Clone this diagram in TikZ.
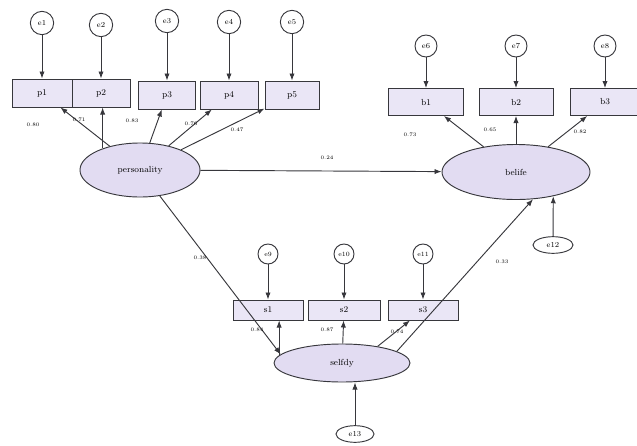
\documentclass[tikz,border=0pt]{standalone}
\usepackage{xcolor}
\usetikzlibrary{arrows.meta,shapes.geometric}

\definecolor{LatFill}{RGB}{226,220,242}
\definecolor{ObsFill}{RGB}{234,230,246}
\definecolor{LineGray}{RGB}{55,55,60}

\begin{document}
\begin{tikzpicture}[
        % Environment Config
        x=0.03cm, y=-0.03cm,
        line width=0.8pt,
        Path/.style={% Style for the regression paths
          -{Latex[length=6pt,width=4.5pt]},
          LineGray
        },
        Latent/.style={% Style for the latent variables
          draw=LineGray,
          fill=LatFill,
          ellipse,
          inner sep=0pt,
          font=\fontsize{7.5}{8}\selectfont
        },
        Observed/.style={% Style for the indicators
          draw=LineGray,
          fill=ObsFill,
          rectangle,
          inner sep=0pt,
          minimum width=1.8cm,
          minimum height=0.84cm,
          font=\fontsize{7.5}{8}\selectfont
        },
        ErrCirc/.style={% Style for the error terms
          draw=LineGray,
          fill=white,
          circle,
          inner sep=0pt,
          minimum size=0.7cm,
          font=\fontsize{6.5}{7}\selectfont
        },
        Weight/.style={% Style for the path values
          inner sep=0pt,
          font=\fontsize{4.5}{5}\selectfont
        }
      ]

      \useasboundingbox (0,0) rectangle (637,446);

      % Latent variables
      \draw(140,170) node[Latent,minimum width=3.6cm,minimum height=1.62cm](Pers){personality};
      \draw(516,172) node[Latent,minimum width=4.44cm,minimum height=1.65cm](Bel){belife};
      \draw(342,363) node[Latent,minimum width=4.08cm,minimum height=1.14cm](Self){selfdy};

      % Indicators of personality
      \draw(42,93) node[Observed](p1){p1};
      \draw(101,93) node[Observed,minimum width=1.74cm](p2){p2};
      \draw(167,95) node[Observed,minimum width=1.71cm](p3){p3};
      \draw(229,95) node[Observed,minimum width=1.74cm](p4){p4};
      \draw(292,95) node[Observed,minimum width=1.62cm](p5){p5};

      % Indicators of belife
      \draw(426,102) node[Observed,minimum width=2.25cm,minimum height=0.81cm](b1){b1};
      \draw(516,102) node[Observed,minimum width=2.22cm,minimum height=0.81cm](b2){b2};
      \draw(605,102) node[Observed,minimum width=2.1cm,minimum height=0.81cm](b3){b3};

      % Indicators of selfdy
      \draw(268,310) node[Observed,minimum width=2.1cm,minimum height=0.6cm](s1){s1};
      \draw(344,310) node[Observed,minimum width=2.16cm,minimum height=0.6cm](s2){s2};
      \draw(423,310) node[Observed,minimum width=2.1cm,minimum height=0.6cm](s3){s3};

      % Error terms
      \draw(p1 |- 0,23) node[ErrCirc](e1){e1};
      \draw(p2 |- 0,25) node[ErrCirc](e2){e2};
      \draw(p3 |- 0,21) node[ErrCirc](e3){e3};
      \draw(p4 |- 0,22) node[ErrCirc](e4){e4};
      \draw(p5 |- 0,22) node[ErrCirc](e5){e5};
      \draw(b1 |- 0,46) node[ErrCirc,minimum size=0.66cm](e6){e6};
      \draw(b2 |- 0,46) node[ErrCirc,minimum size=0.66cm](e7){e7};
      \draw(b3 |- 0,46) node[ErrCirc,minimum size=0.66cm](e8){e8};
      \draw(s1 |- 0,254) node[ErrCirc,minimum size=0.6cm,font=\fontsize{5.5}{6}\selectfont](e9){e9};
      \draw(s2 |- 0,254) node[ErrCirc,minimum size=0.6cm,font=\fontsize{5.5}{6}\selectfont](e10){e10};
      \draw(s3 |- 0,254) node[ErrCirc,minimum size=0.6cm,font=\fontsize{5.5}{6}\selectfont](e11){e11};
      \draw(553,245) node[ErrCirc,ellipse,minimum width=1.2cm,minimum height=0.5cm](e12){e12};
      \draw(355,434) node[ErrCirc,ellipse,minimum width=1.14cm,minimum height=0.5cm](e13){e13};

      % Error paths
      \draw[Path] (e1) -- (p1);
      \draw[Path] (e2) -- (p2);
      \draw[Path] (e3) -- (p3);
      \draw[Path] (e4) -- (p4);
      \draw[Path] (e5) -- (p5);
      \draw[Path] (e6) -- (b1);
      \draw[Path] (e7) -- (b2);
      \draw[Path] (e8) -- (b3);
      \draw[Path] (e9) -- (s1);
      \draw[Path] (e10) -- (s2);
      \draw[Path] (e11) -- (s3);
      \draw[Path] (e12) -- (Bel.-33);
      \draw[Path] (e13) -- (Self.south -| e13);

      % Loadings
      \draw[Path] (Pers) -- (p1);
      \draw[Path] (Pers.150) -- (p2.south -| Pers.150);
      \draw[Path] (Pers) -- (p3);
      \draw[Path] (Pers) -- (p4);
      \draw[Path] (Pers) -- (p5);
      \draw[Path] (Bel) -- (b1);
      \draw[Path] (Bel) -- (b2);
      \draw[Path] (Bel) -- (b3);
      \draw[Path] (Self.173) -- (s1.south -| Self.173);
      \draw[Path] (Self) -- (s2);
      \draw[Path] (Self.25) -- (s3);

      % Structural paths
      \draw[Path] (Pers) -- (Bel);
      \draw[Path] (Pers) -- (Self.172);
      \draw[Path] (Self.12) -- (Bel.-58);

      % Path values
      \draw(33,125) node[Weight](w1){0.80};
      \draw(79,120) node[Weight](w2){0.71};
      \draw(132,121) node[Weight](w3){0.83};
      \draw(191,124) node[Weight](w4){0.76};
      \draw(237,130) node[Weight](w5){0.47};
      \draw(327,158) node[Weight](w6){0.24};
      \draw(410,135) node[Weight](w7){0.73};
      \draw(490,130) node[Weight](w8){0.65};
      \draw(580,132) node[Weight](w9){0.82};
      \draw(200,258) node[Weight](w10){0.38};
      \draw(257,330) node[Weight](w11){0.84};
      \draw(327,330) node[Weight](w12){0.87};
      \draw(397,332) node[Weight](w13){0.74};
      \draw(502,262) node[Weight](w14){0.33};

      \end{tikzpicture}
\end{document}
